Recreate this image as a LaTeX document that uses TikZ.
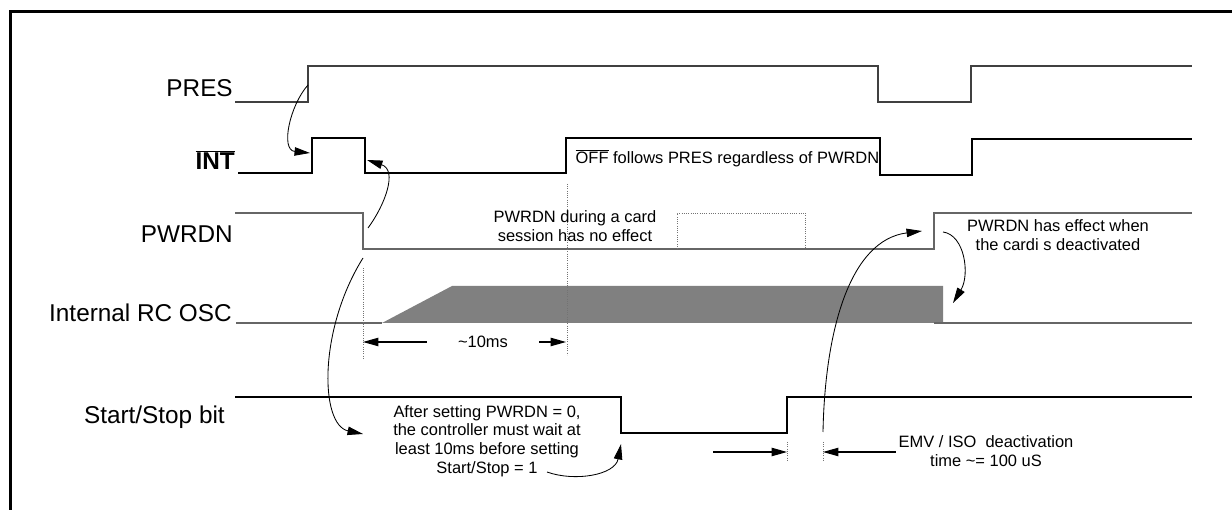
\documentclass[tikz,border=0pt]{standalone}
\usepackage{fontspec}
\setmainfont{Liberation Sans}
\usetikzlibrary{arrows.meta}

\tikzset{
  wave/.style={line width=1pt},
  guide/.style={black!55, densely dotted, line width=0.6pt},
  siglabel/.style={font=\fontsize{17.3}{20}\selectfont, anchor=base east, inner sep=0pt},
  note/.style={font=\fontsize{11.7}{13.3}\selectfont, align=center, inner sep=1pt},
  bendarrow/.style={line width=0.6pt, -{Triangle[length=11pt,width=6pt]}},
  dimarrow/.style={line width=0.8pt, -{Triangle[length=11pt,width=6pt]}},
}

\begin{document}
\begin{tikzpicture}[x=0.025cm, y=-0.025cm]
        \useasboundingbox (0,0) rectangle (1232,510);
        % frame
        \draw[line width=1.8pt] (10.5,510) -- (10.5,11.5) -- (1232,11.5);
        % signal names
        \node[siglabel] (pres) at (233,97) {PRES};
        \node[siglabel] (int) at (235,170) {$\overline{\hbox{\bfseries INT}}$};
        \node[siglabel] (pwrdn) at (233,243) {PWRDN};
        \node[siglabel] (osc) at (232,322) {Internal RC OSC};
        \node[siglabel] (start) at (225,424) {Start/Stop bit};
        % waveforms
        \draw[wave, black!75] (235,102) -- (308,102) -- (308,66) -- (878,66) -- (878,102)
          -- (971,102) -- (971,66) -- (1192,66);
        \draw[wave] (238,173) -- (312,173) -- (312,138) -- (365,138) -- (365,173) -- (566,173)
          -- (566,138) -- (880,138) -- (880,175) -- (972,175) -- (972,139) -- (1192,139);
        \draw[wave, black!60] (235,213) -- (363,213) -- (363,249) -- (934,249) -- (934,213) -- (1192,213);
        \draw[guide] (677,249) -- (677,213) -- (805,213) -- (805,249);
        \fill[black!50] (382,323) -- (452,286) -- (943,286) -- (943,323) -- cycle;
        \draw[wave, black!60] (236,323) -- (382,323);
        \draw[wave, black!60] (934,323) -- (1192,323);
        \draw[wave] (235,397) -- (621,397) -- (621,433) -- (787,433) -- (787,397) -- (1192,397);
        % guides
        \draw[guide] (363,268) -- (363,359);
        \draw[guide] (567,184) -- (567,355);
        \draw[guide] (787,442) -- (787,461);
        \draw[guide] (823,442) -- (823,461);
        % notes
        \node[note, anchor=base west] (offnote) at (574,164) {$\overline{\hbox{OFF}}$ follows PRES regardless of PWRDN};
        \node[note] (nofx) at (575,226) {PWRDN during a card\\session has no effect};
        \node[note] (effect) at (1058,235) {PWRDN has effect when\\the cardi s deactivated};
        \node[note] (wait) at (487,441) {After setting PWRDN = 0,\\the controller must wait at\\least 10ms before setting\\Start/Stop = 1};
        \node[note, inner xsep=2pt] (emv) at (986,451) {EMV / ISO\ \ deactivation\\time \textasciitilde= 100 uS};
        \node[note, inner xsep=22pt, inner ysep=0pt] (tms) at (483,342) {\textasciitilde10ms};
        % end points
        \coordinate (t0) at (363,342);
        \coordinate (t1) at (566,342);
        \coordinate (d0) at (787,452);
        \coordinate (d1) at (823,452);
        \coordinate (dl) at (713,452);
        \coordinate (a1s) at (308,85);
        \coordinate (a1e) at (310,153);
        \coordinate (a2s) at (368,228);
        \coordinate (a2e) at (367,160);
        \coordinate (a3s) at (363,258);
        \coordinate (a3e) at (363,434);
        \coordinate (a4s) at (547,472);
        \coordinate (a4e) at (621,444);
        \coordinate (a5s) at (823,432);
        \coordinate (a5e) at (922,231);
        \coordinate (a6s) at (943,232);
        \coordinate (a6e) at (953,303);
        % arrows
        \draw[dimarrow] (tms.west) -- (t0);
        \draw[dimarrow] (tms.east) -- (t1);
        \draw[dimarrow] (dl) -- (d0);
        \draw[dimarrow] (emv.west |- d1) -- (d1);
        \draw[bendarrow] (a1s) .. controls (290,105) and (280,150) .. (a1e);
        \draw[bendarrow] (a2s) .. controls (385,205) and (398,170) .. (a2e);
        \draw[bendarrow] (a3s) .. controls (318,330) and (320,425) .. (a3e);
        \draw[bendarrow] (a4s) .. controls (575,482) and (615,475) .. (a4e);
        \draw[bendarrow] (a5s) .. controls (825,330) and (850,240) .. (a5e);
        \draw[bendarrow] (a6s) .. controls (965,235) and (970,275) .. (a6e);
      \end{tikzpicture}
\end{document}
